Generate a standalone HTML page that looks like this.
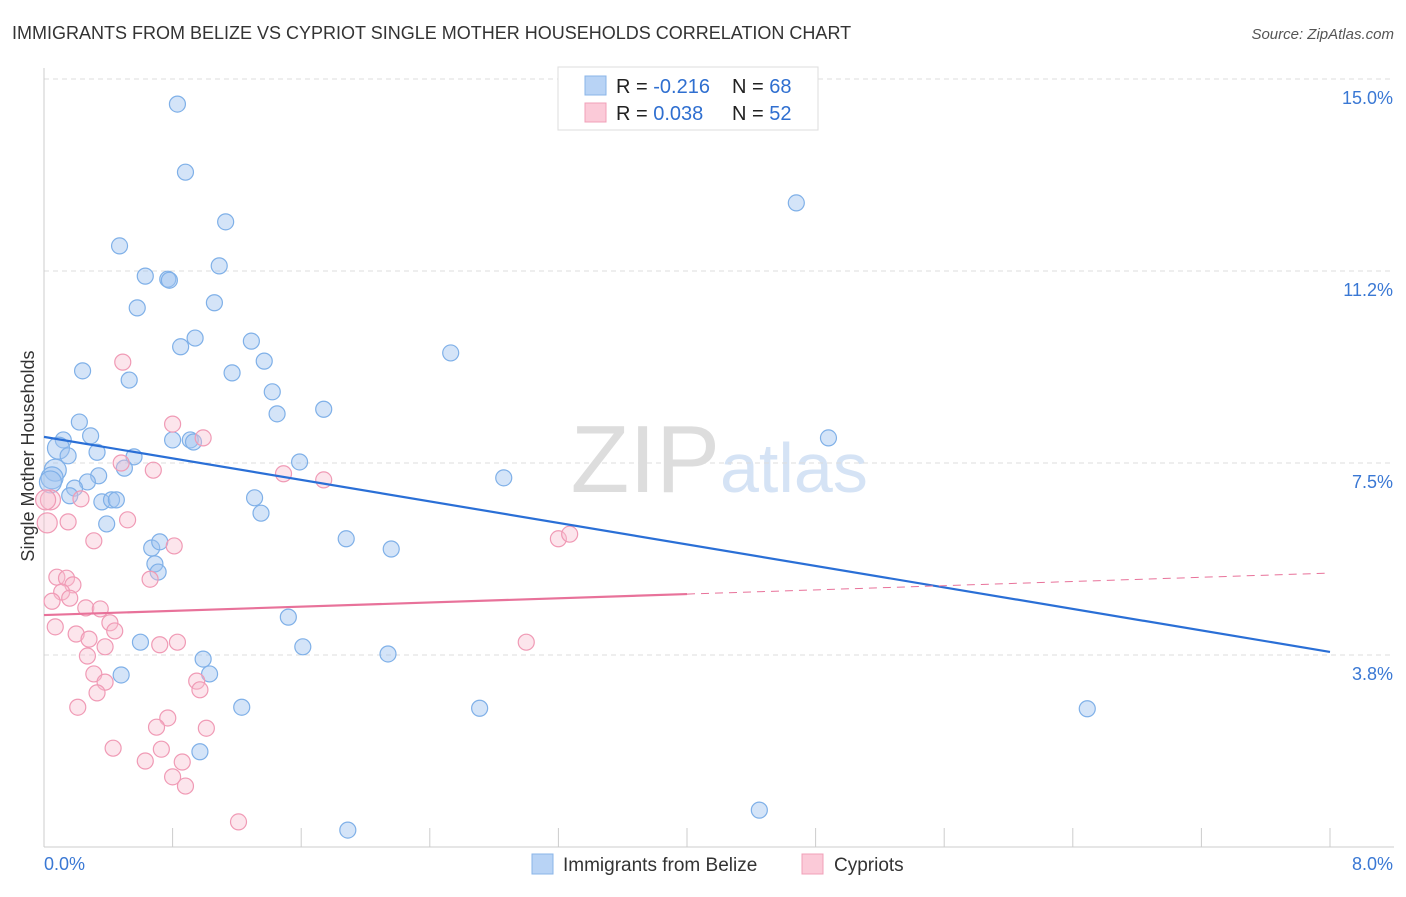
<!DOCTYPE html>
<html><head><meta charset="utf-8"><style>
body{margin:0;background:#fff;font-family:"Liberation Sans",sans-serif;}
svg text{font-family:"Liberation Sans",sans-serif;}
</style></head><body>
<svg id="chart" width="1406" height="892" xmlns="http://www.w3.org/2000/svg">
<text x="12" y="39" font-size="18" fill="#333">IMMIGRANTS FROM BELIZE VS CYPRIOT SINGLE MOTHER HOUSEHOLDS CORRELATION CHART</text>
<text x="1394" y="39" font-size="15" fill="#555" font-style="italic" text-anchor="end">Source: ZipAtlas.com</text>
<text x="720" y="492" font-size="96" fill="#ddd" font-family="Liberation Serif" text-anchor="end">ZIP</text>
<text x="720" y="492" font-size="70" fill="#d5e3f5">atlas</text>
<g id="grid"></g>
<g id="axes"></g>
<g id="marks"></g>
<text transform="translate(34,456) rotate(-90)" font-size="18" fill="#333" text-anchor="middle">Single Mother Households</text>
<g>
<rect x="558" y="67" width="260" height="63" fill="#fff" stroke="#ddd"/>
<rect x="585" y="76" width="21" height="19" fill="#b8d3f5" stroke="#8ab5e8"/>
<rect x="585" y="103" width="21" height="19" fill="#fbcad8" stroke="#f0a0b8"/>
<text x="616" y="93" font-size="20" fill="#222">R = <tspan fill="#2f6fd0">-0.216</tspan></text>
<text x="732" y="93" font-size="20" fill="#222">N = <tspan fill="#2f6fd0">68</tspan></text>
<text x="616" y="120" font-size="20" fill="#222">R = <tspan fill="#2f6fd0"> 0.038</tspan></text>
<text x="732" y="120" font-size="20" fill="#222">N = <tspan fill="#2f6fd0">52</tspan></text>
</g>
<g>
<rect x="532" y="854" width="21" height="20" fill="#b8d3f5" stroke="#8ab5e8"/>
<text x="563" y="871" font-size="19" fill="#333">Immigrants from Belize</text>
<rect x="802" y="854" width="21" height="20" fill="#fbcad8" stroke="#f0a0b8"/>
<text x="834" y="871" font-size="19" fill="#333">Cypriots</text>
</g>
</svg>
<script>
const xTicks=[0,0.8,1.6,2.4,3.2,4.0,4.8,5.6,6.4,7.2,8.0];
const yTicks=[3.75,7.5,11.25,15];
const yTickLabels=["3.8%","7.5%","11.2%","15.0%"];
const xTickLabels=["0.0%","8.0%"];
const belizeX=[0.83,0.88,1.13,4.68,0.47,0.63,0.77,0.78,1.09,0.58,1.06,0.85,0.94,1.29,1.37,1.17,0.24,0.53,2.53,1.42,1.45,1.74,0.22,0.29,0.12,0.09,0.15,0.07,0.05,0.04,0.33,0.56,0.50,0.80,0.91,0.93,1.59,4.88,2.86,0.34,0.27,0.19,0.16,0.36,0.42,0.45,1.31,1.35,0.39,1.88,2.16,0.67,0.72,0.69,0.71,1.52,1.61,0.60,0.99,1.03,0.48,2.14,1.23,2.71,6.49,0.97,4.45,1.89];
const belizeY=[14.51,13.18,12.21,12.58,11.74,11.15,11.09,11.07,11.35,10.53,10.63,9.77,9.94,9.88,9.49,9.26,9.30,9.12,9.65,8.89,8.46,8.55,8.30,8.03,7.95,7.79,7.64,7.36,7.21,7.13,7.71,7.62,7.40,7.95,7.95,7.91,7.52,7.99,7.21,7.25,7.13,7.01,6.86,6.74,6.78,6.78,6.82,6.52,6.31,6.02,5.82,5.84,5.96,5.53,5.37,4.49,3.91,4.00,3.67,3.38,3.36,3.77,2.73,2.71,2.70,1.86,0.72,0.33];
const cyprusX=[0.49,0.80,0.99,0.48,0.68,1.49,1.74,0.04,0.23,0.02,0.15,0.52,0.31,0.81,3.20,3.27,0.08,0.14,0.18,0.66,0.11,0.16,0.05,0.26,0.35,0.07,0.41,0.20,0.28,0.44,0.83,0.72,3.00,0.38,0.27,0.31,0.38,0.95,0.97,0.33,0.21,0.77,0.70,1.01,0.43,0.73,0.63,0.86,0.80,0.88,1.21,0.01];
const cyprusY=[9.47,8.26,7.99,7.50,7.36,7.29,7.17,6.78,6.80,6.33,6.35,6.39,5.98,5.88,6.02,6.11,5.27,5.25,5.12,5.23,4.98,4.86,4.80,4.67,4.65,4.30,4.38,4.16,4.06,4.22,4.00,3.95,4.00,3.91,3.73,3.38,3.22,3.24,3.07,3.01,2.73,2.52,2.34,2.32,1.93,1.91,1.68,1.66,1.37,1.19,0.49,6.78];
const belizeTrend=[8.01,3.81];
const cyprusTrend=[4.53,5.35];
const cyprusSolidEnd=4.0;
const X0=44,X1=1330,Y0=847,Y15=79;
const sx=v=>X0+v/8*(X1-X0);
const sy=v=>Y15+(15-v)*(Y0-Y15)/15;
const NS="http://www.w3.org/2000/svg";
function mk(tag,attrs,parent){const e=document.createElementNS(NS,tag);for(const k in attrs)e.setAttribute(k,attrs[k]);document.getElementById(parent).appendChild(e);return e;}
yTicks.forEach((t,i)=>{
 const l=mk('line',{x1:X0,x2:1394,y1:sy(t),y2:sy(t),stroke:'#ddd','stroke-dasharray':'5,4'},'grid');
 
 
 const tx=mk('text',{x:1393,y:sy(t)+25,'font-size':18,fill:'#3a78d4','text-anchor':'end'},'axes');
 tx.textContent=yTickLabels[i];
 
 
});
const ax=mk('line',{x1:X0,x2:X0,y1:68,y2:Y0,stroke:'#ccc'},'axes');


const bx=mk('line',{x1:X0,x2:1394,y1:Y0,y2:Y0,stroke:'#ccc'},'axes');


xTicks.forEach(t=>{
 const l=mk('line',{x1:sx(t),x2:sx(t),y1:828,y2:Y0,stroke:'#ccc'},'axes');
 
 
});
[[0,'start',44],[8,'end',1393]].forEach((a,i)=>{
 const tx=mk('text',{x:a[2],y:870,'font-size':18,fill:'#3a78d4','text-anchor':a[1]},'axes');
 tx.textContent=xTickLabels[i];
 
 
});
belizeX.forEach((v,i)=>{
 const c=mk('circle',{cx:sx(v),cy:sy(belizeY[i]),r:(v<0.1?11:8),fill:'rgba(160,196,240,0.45)',stroke:'#7fb0e8','stroke-width':1.2},'marks');
 
 
});
cyprusX.forEach((v,i)=>{
 const c=mk('circle',{cx:sx(v),cy:sy(cyprusY[i]),r:(v<0.05?10:8),fill:'rgba(248,190,208,0.4)',stroke:'#f09ab5','stroke-width':1.2},'marks');
 
 
});
const bl=mk('line',{x1:sx(0),y1:sy(belizeTrend[0]),x2:sx(8),y2:sy(belizeTrend[1]),stroke:'#2a6fd6','stroke-width':2.2},'marks');


const cyAt=x=>cyprusTrend[0]+(cyprusTrend[1]-cyprusTrend[0])*x/8;
const pl=mk('line',{x1:sx(0),y1:sy(cyprusTrend[0]),x2:sx(cyprusSolidEnd),y2:sy(cyAt(cyprusSolidEnd)),stroke:'#e8729a','stroke-width':2.2},'marks');


const pd=mk('line',{x1:sx(cyprusSolidEnd),y1:sy(cyAt(cyprusSolidEnd)),x2:sx(8),y2:sy(cyprusTrend[1]),stroke:'#e8729a','stroke-width':1,'stroke-dasharray':'8,6'},'marks');


</script>
</body></html>
